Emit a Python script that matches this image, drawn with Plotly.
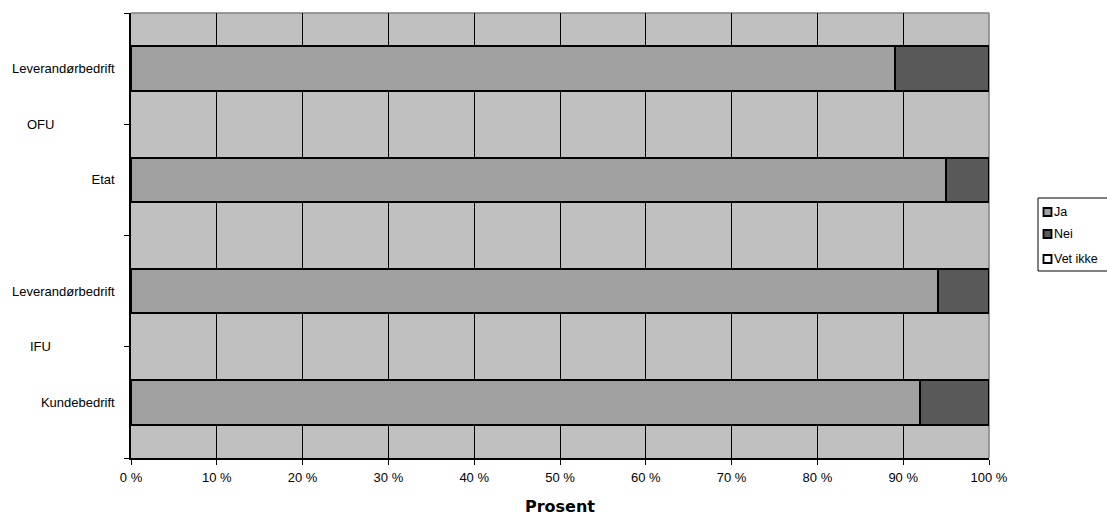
import plotly.graph_objects as go

# ---- data ----
categories = ["Leverandørbedrift", "Etat", "Leverandørbedrift", "Kundebedrift"]
groups = ["OFU", "OFU", "IFU", "IFU"]
group_names = ["OFU", "IFU"]
series_names = ["Ja", "Nei", "Vet ikke"]
ja = [89, 95, 94, 92]
nei = [11, 5, 6, 8]
vet_ikke = [0, 0, 0, 0]
x_tick_values = [0, 10, 20, 30, 40, 50, 60, 70, 80, 90, 100]
x_tick_labels = [f"{v} %" for v in x_tick_values]
x_title = "Prosent"

# ---- style ----
colors = ["#A0A0A0", "#595959", "#FFFFFF"]
FONT = "Liberation Sans, Arial, sans-serif"
FS = 13
W, H = 1107, 516
L, R, T, B = 131, 989, 13, 458  # plot area in px

def px_x(p):
    return (p - L) / (R - L)

def px_y(p):
    return (B - p) / (B - T)

positions = list(range(len(categories)))
series_values = [ja, nei, vet_ikke]

fig = go.Figure()
for name, vals, col in zip(series_names, series_values, colors):
    fig.add_trace(go.Bar(
        x=vals, y=positions, orientation="h", name=name,
        marker=dict(color=col, line=dict(color="black", width=2)),
        width=0.4, showlegend=False,
    ))

# group labels
for g in group_names:
    idx = [i for i, gg in enumerate(groups) if gg == g]
    ymid = sum(idx) / len(idx)
    fig.add_annotation(x=px_x(40), xref="paper", y=ymid, yref="y",
                       text=g, showarrow=False, xanchor="center",
                       font=dict(family=FONT, size=FS, color="black"))

# gray plot border (top, right)
fig.add_shape(type="line", xref="paper", yref="paper", x0=0, x1=1, y0=1, y1=1,
              line=dict(color="#808080", width=1.5), layer="between")
fig.add_shape(type="line", xref="paper", yref="paper", x0=1, x1=1, y0=0, y1=1,
              line=dict(color="#808080", width=1.5), layer="between")

# manual legend
fig.add_shape(type="rect", xref="paper", yref="paper",
              x0=px_x(1038), x1=px_x(1115), y0=px_y(198), y1=px_y(271),
              line=dict(color="black", width=1), fillcolor="white")
item_y = [212, 234, 259]
for name, col, yy in zip(series_names, colors, item_y):
    fig.add_shape(type="rect", xref="paper", yref="paper",
                  x0=px_x(1043.5), x1=px_x(1051.5), y0=px_y(yy + 4), y1=px_y(yy - 4),
                  line=dict(color="black", width=1.8), fillcolor=col)
    fig.add_annotation(x=px_x(1051.5), xref="paper", y=px_y(yy), yref="paper",
                       text=name, showarrow=False, xanchor="left", yanchor="middle",
                       font=dict(family=FONT, size=12.5, color="black"))

fig.update_layout(
    width=W, height=H,
    margin=dict(l=L, r=W - R, t=T, b=H - B, autoexpand=False),
    paper_bgcolor="white", plot_bgcolor="#C0C0C0",
    barmode="stack", showlegend=False,
    font=dict(family=FONT, size=FS, color="black"),
    xaxis=dict(
        range=[0, 100], tickvals=x_tick_values, ticktext=x_tick_labels,
        ticks="outside", ticklen=5, tickcolor="black", tickwidth=1,
        ticklabelstandoff=2, automargin=False,
        showgrid=True, gridcolor="black", gridwidth=1,
        showline=True, linecolor="black", linewidth=1.5,
        zeroline=False, tickfont=dict(family=FONT, size=FS),
        title=dict(text=f"<b>{x_title}</b>", standoff=16,
                   font=dict(family="DejaVu Sans, sans-serif", size=16)),
    ),
    yaxis=dict(
        range=[len(categories) - 0.5, -0.5],
        tickvals=positions, ticktext=categories, ticks="",
        ticklabelstandoff=12, automargin=False,
        showgrid=False, zeroline=False,
        showline=True, linecolor="black", linewidth=1.5,
        tickfont=dict(family=FONT, size=FS),
        minor=dict(tickvals=[p - 0.5 for p in positions] + [positions[-1] + 0.5],
                   ticks="outside", ticklen=5, tickcolor="black", tickwidth=1,
                   showgrid=False),
    ),
)

fig.write_html("out.html", config={"displayModeBar": False},
               post_script="document.body.style.margin='0';")
